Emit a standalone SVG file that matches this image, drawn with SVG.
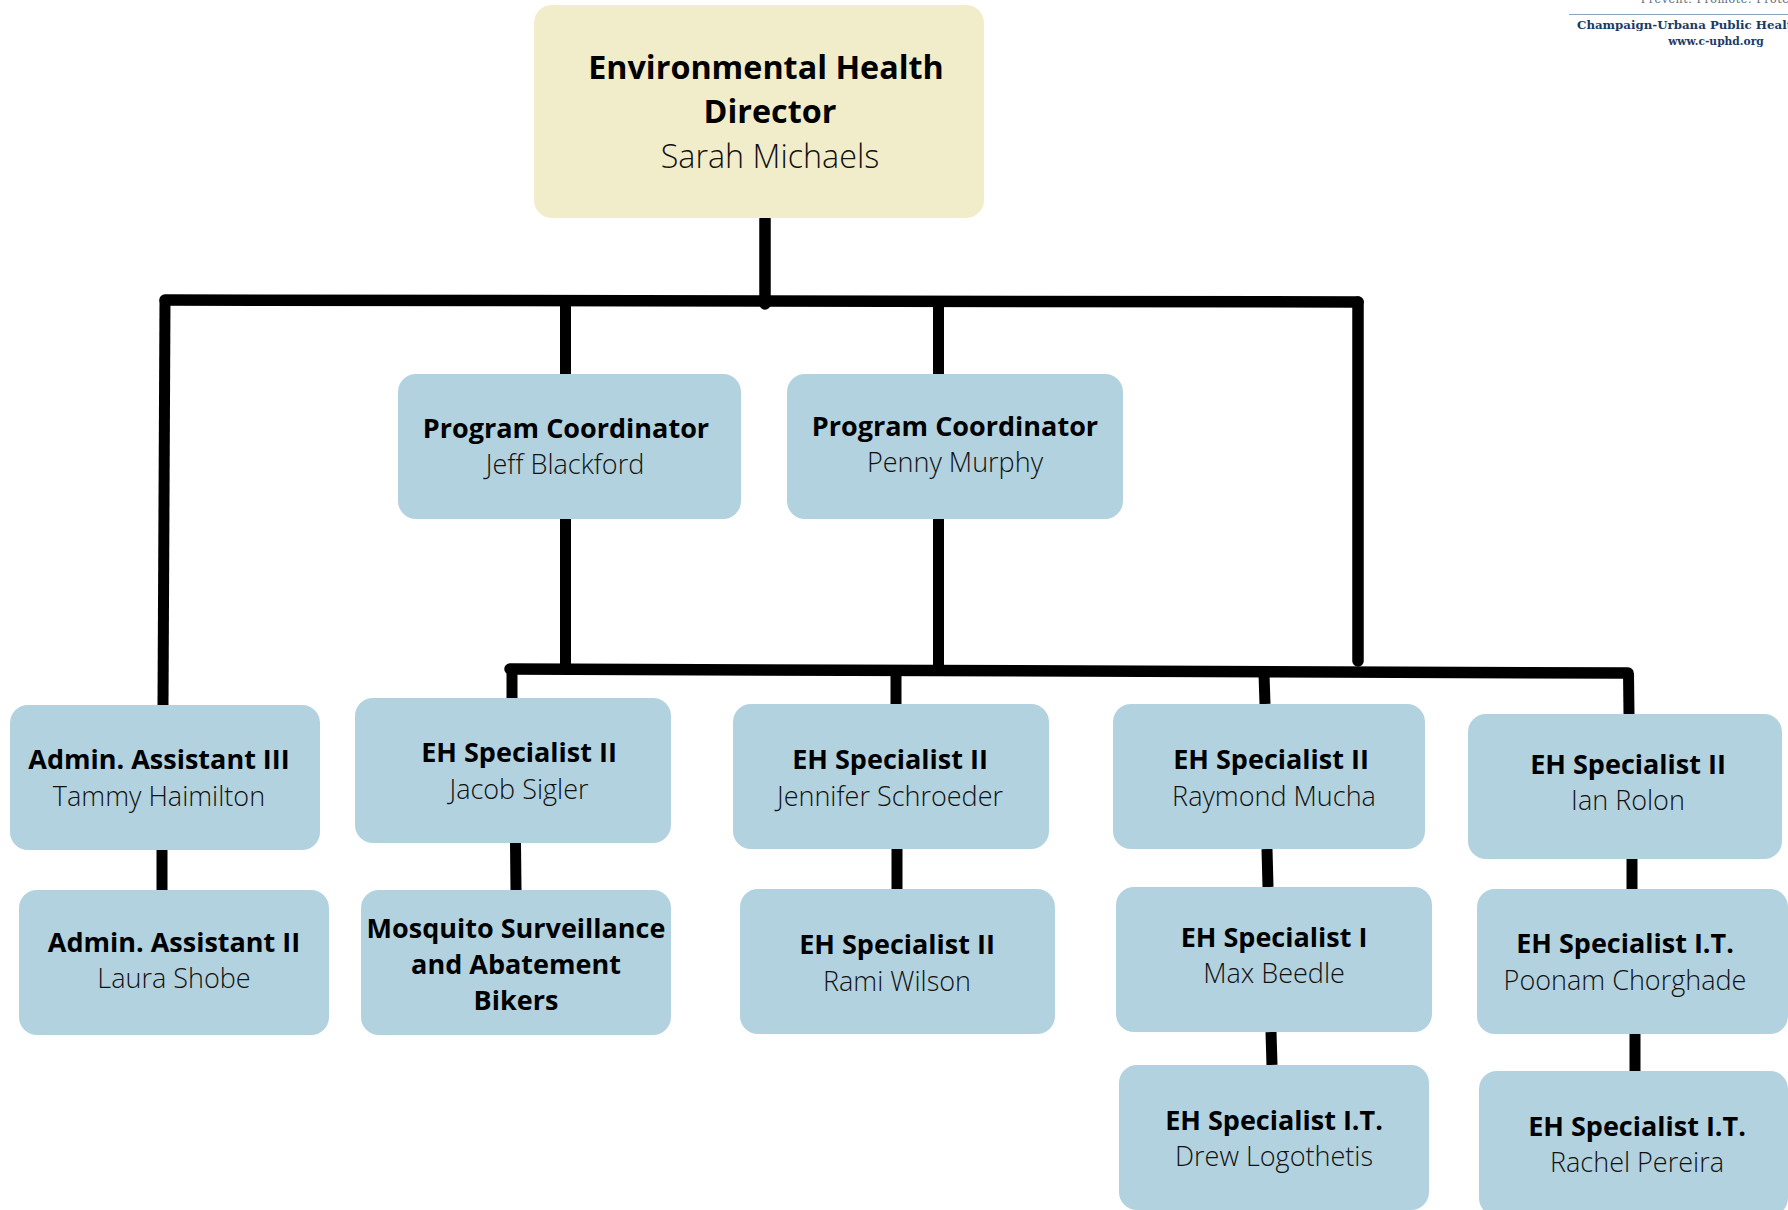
<svg xmlns="http://www.w3.org/2000/svg" width="1788" height="1210" viewBox="0 0 1788 1210">
<style>
.box{fill:#b2d2df}
.dir{fill:#f1edcb}
.t{font-family:"Open Sans","Noto Sans",sans-serif;font-weight:700;font-size:27px;fill:#000;text-anchor:middle}
.n{font-family:"Open Sans","Noto Sans",sans-serif;font-weight:300;font-size:27px;fill:#111;text-anchor:middle}
.big{font-size:32.300px}
.c{stroke:#000;stroke-width:11.500;fill:none;stroke-linecap:round}
.c2{stroke:#000;stroke-width:11;fill:none;stroke-linecap:butt}
.l{font-family:"DejaVu Serif",serif;font-weight:700;font-size:11.800px;fill:#1c3a66;text-anchor:middle}
</style>
<g id="connectors">
<path class="c" d="M165 300L1358 302"/>
<path class="c" d="M765 219V304"/>
<path class="c2" d="M165 300L163 705"/>
<path class="c" d="M1358 302V661"/>
<path class="c2" d="M565.500 300V374M565.500 519V668"/>
<path class="c2" d="M938.500 302V374M938.500 519V667"/>
<path class="c" d="M510 669L1628 673"/>
<path class="c2" d="M512 670V698"/>
<path class="c2" d="M896 672V704"/>
<path class="c2" d="M1264 674L1265 704"/>
<path class="c2" d="M1628.500 673L1629 714"/>
<path class="c2" d="M162 850V890"/>
<path class="c2" d="M515.500 843L516 890"/>
<path class="c2" d="M897 849V889"/>
<path class="c2" d="M1267 849L1268 887"/>
<path class="c2" d="M1271 1032L1272 1065"/>
<path class="c2" d="M1632 859V889"/>
<path class="c2" d="M1635 1034V1071"/>
</g>
<g id="logo">
<text x="1723" y="3" style="font-family:'DejaVu Serif',serif;font-size:11px;fill:#5b6a80;text-anchor:middle;letter-spacing:.6px">Prevent. Promote. Protect.</text>
<line x1="1569" y1="14.500" x2="1788" y2="14.500" stroke="#8ea3bd" stroke-width="1"/>
<text x="1577" y="29" class="l" style="text-anchor:start">Champaign-Urbana Public Health</text>
<text x="1716" y="45" class="l" style="font-size:10.700px">www.c-uphd.org</text>
</g>
<g id="director"><rect class="dir" x="534" y="5" width="450" height="213" rx="18"/><text class="t big" x="766" y="79">Environmental Health</text><text class="t big" x="770" y="123">Director</text><text class="n big" x="770" y="168">Sarah Michaels</text></g>
<g id="pc1"><rect class="box" x="398" y="374" width="343" height="145" rx="18"/><text class="t" x="566" y="438">Program Coordinator</text><text class="n" x="565" y="474">Jeff Blackford</text></g>
<g id="pc2"><rect class="box" x="787" y="374" width="336" height="145" rx="18"/><text class="t" x="955" y="436">Program Coordinator</text><text class="n" x="955" y="472">Penny Murphy</text></g>
<g id="admin3"><rect class="box" x="10" y="705" width="310" height="145" rx="18"/><text class="t" x="159" y="769">Admin. Assistant III</text><text class="n" x="159" y="806">Tammy Haimilton</text></g>
<g id="jacob"><rect class="box" x="355" y="698" width="316" height="145" rx="18"/><text class="t" x="519" y="762">EH Specialist II</text><text class="n" x="519" y="799">Jacob Sigler</text></g>
<g id="jennifer"><rect class="box" x="733" y="704" width="316" height="145" rx="18"/><text class="t" x="890" y="769">EH Specialist II</text><text class="n" x="890" y="806">Jennifer Schroeder</text></g>
<g id="raymond"><rect class="box" x="1113" y="704" width="312" height="145" rx="18"/><text class="t" x="1271" y="769">EH Specialist II</text><text class="n" x="1274" y="806">Raymond Mucha</text></g>
<g id="ian"><rect class="box" x="1468" y="714" width="314" height="145" rx="18"/><text class="t" x="1628" y="774">EH Specialist II</text><text class="n" x="1628" y="810">Ian Rolon</text></g>
<g id="laura"><rect class="box" x="19" y="890" width="310" height="145" rx="18"/><text class="t" x="174" y="952">Admin. Assistant II</text><text class="n" x="174" y="988">Laura Shobe</text></g>
<g id="bikers"><rect class="box" x="361" y="890" width="310" height="145" rx="18"/><text class="t" x="516" y="938">Mosquito Surveillance</text><text class="t" x="516" y="974">and Abatement</text><text class="t" x="516" y="1010">Bikers</text></g>
<g id="rami"><rect class="box" x="740" y="889" width="315" height="145" rx="18"/><text class="t" x="897" y="954">EH Specialist II</text><text class="n" x="897" y="991">Rami Wilson</text></g>
<g id="max"><rect class="box" x="1116" y="887" width="316" height="145" rx="18"/><text class="t" x="1274" y="947">EH Specialist I</text><text class="n" x="1274" y="983">Max Beedle</text></g>
<g id="drew"><rect class="box" x="1119" y="1065" width="310" height="145" rx="18"/><text class="t" x="1274" y="1130">EH Specialist I.T.</text><text class="n" x="1274" y="1166">Drew Logothetis</text></g>
<g id="poonam"><rect class="box" x="1477" y="889" width="311" height="145" rx="18"/><text class="t" x="1625" y="953">EH Specialist I.T.</text><text class="n" x="1625" y="990">Poonam Chorghade</text></g>
<g id="rachel"><rect class="box" x="1479" y="1071" width="309" height="145" rx="18"/><text class="t" x="1637" y="1136">EH Specialist I.T.</text><text class="n" x="1637" y="1172">Rachel Pereira</text></g>
</svg>
